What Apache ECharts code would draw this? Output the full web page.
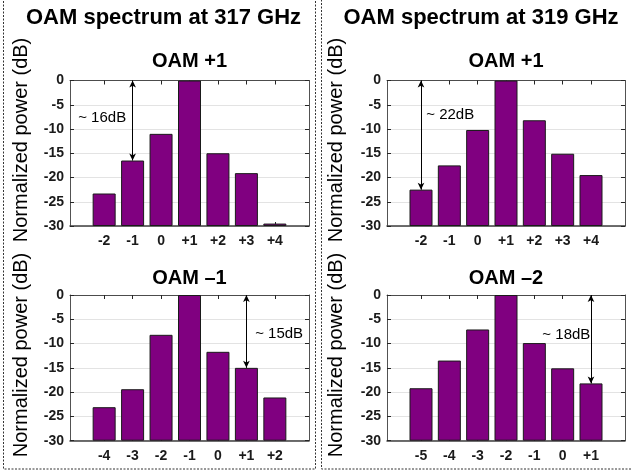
<!DOCTYPE html>
<html><head><meta charset="utf-8">
<script src="https://cdn.jsdelivr.net/npm/echarts@6/dist/echarts.min.js"></script>
<style>html,body{margin:0;padding:0;background:#fff}#c{width:631px;height:471px}</style>
</head><body><div id="c"></div>
<script>
const titles = ['OAM spectrum at 317 GHz', 'OAM spectrum at 319 GHz'];
const subTitles = ['OAM +1', 'OAM +1', 'OAM \u20131', 'OAM \u20132'];
const yName = 'Normalized power (dB)';
const modes317p1 = [-2, -1, 0, 1, 2, 3, 4];
const power317p1 = [-23.3, -16.5, -11.0, 0, -15.0, -19.1, -29.5];
const modes319p1 = [-2, -1, 0, 1, 2, 3, 4];
const power319p1 = [-22.5, -17.5, -10.2, 0, -8.2, -15.1, -19.5];
const modes317m1 = [-4, -3, -2, -1, 0, 1, 2];
const power317m1 = [-23.1, -19.4, -8.2, 0, -11.7, -15.0, -21.1];
const modes319m2 = [-5, -4, -3, -2, -1, 0, 1];
const power319m2 = [-19.2, -13.5, -7.1, 0, -9.9, -15.1, -18.2];
const gapLabels = ['~ 16dB', '~ 22dB', '~ 15dB', '~ 18dB'];
const gapModes = [-1, -2, 1, 1];

const FONT = "'Liberation Sans', Arial, sans-serif";
const AX = '#262626';

const panels = [
  {modes: modes317p1, power: power317p1, left: 70, top: 80.5, width: 239, height: 145.5, labelAt: [-2.07, -7.7]},
  {modes: modes319p1, power: power319p1, left: 387, top: 80.5, width: 238, height: 145.5, labelAt: [-0.97, -7.1]},
  {modes: modes317m1, power: power317m1, left: 70, top: 295, width: 239, height: 145.7, labelAt: [2.15, -8.0]},
  {modes: modes319m2, power: power319m2, left: 387, top: 295, width: 238, height: 145.7, labelAt: [0.13, -8.3]}
];

const fmt = v => (v > 0 ? '+' + v : String(v));
const grid = [], xAxis = [], yAxis = [], series = [];

panels.forEach((p, i) => {
  const center = p.modes[3];
  const min = center - 4.2, max = center + 4.2;
  grid.push({left: p.left, top: p.top, width: p.width, height: p.height});
  xAxis.push({
    gridIndex: i, type: 'value', min, max, position: 'bottom',
    axisLine: {show: true, onZero: false, lineStyle: {color: '#404040', width: 1.5}},
    axisTick: {show: true, inside: true, length: 4, customValues: p.modes, lineStyle: {color: AX}},
    axisLabel: {show: true, customValues: p.modes, formatter: fmt, fontWeight: 'bold', fontSize: 14, color: '#1a1a1a', margin: 8, fontFamily: FONT},
    splitLine: {show: false}
  });
  xAxis.push({
    gridIndex: i, type: 'value', min, max, position: 'top',
    axisLine: {show: true, onZero: false, lineStyle: {color: AX, width: 0.8}},
    axisTick: {show: true, inside: true, length: 4, customValues: p.modes, lineStyle: {color: AX}},
    axisLabel: {show: false},
    splitLine: {show: false}
  });
  yAxis.push({
    gridIndex: i, type: 'value', min: -30, max: 0, interval: 5, startValue: -30, position: 'left',
    axisLine: {show: true, onZero: false, lineStyle: {color: AX, width: 0.8}},
    axisTick: {show: true, inside: true, length: 4, lineStyle: {color: AX}},
    axisLabel: {fontWeight: 'bold', fontSize: 14, color: '#1a1a1a', margin: 6, fontFamily: FONT},
    splitLine: {show: true, lineStyle: {color: '#e3e3e3', width: 1}}
  });
  yAxis.push({
    gridIndex: i, type: 'value', min: -30, max: 0, interval: 5, position: 'right',
    axisLine: {show: true, onZero: false, lineStyle: {color: AX, width: 0.8}},
    axisTick: {show: true, inside: true, length: 4, lineStyle: {color: AX}},
    axisLabel: {show: false},
    splitLine: {show: false}
  });
  const gIdx = p.modes.indexOf(gapModes[i]);
  series.push({
    type: 'bar', xAxisIndex: 2 * i, yAxisIndex: 2 * i,
    data: p.modes.map((m, k) => [m, p.power[k]]),
    barWidth: 23,
    itemStyle: {color: '#800080', borderColor: '#1a1a1a', borderWidth: 1},
    markLine: {
      silent: true, symbol: ['arrow', 'arrow'], symbolSize: [5, 7],
      lineStyle: {color: '#000', width: 1, type: 'solid'},
      label: {show: false},
      data: [[{coord: [gapModes[i], 0]}, {coord: [gapModes[i], p.power[gIdx]]}]]
    },
    markPoint: {
      silent: true, symbol: 'circle', symbolSize: 0,
      label: {show: true, position: 'inside', formatter: gapLabels[i], color: '#000', fontSize: 15, fontFamily: FONT},
      data: [{coord: p.labelAt}]
    }
  });
});

const graphic = [
  {type: 'rect', shape: {x: 3.5, y: -2, width: 312, height: 471}, style: {fill: 'none', stroke: '#333', lineWidth: 1, lineDash: [2, 1.5]}, silent: true},
  {type: 'rect', shape: {x: 321.5, y: -2, width: 320, height: 471}, style: {fill: 'none', stroke: '#333', lineWidth: 1, lineDash: [2, 1.5]}, silent: true},
  {type: 'text', x: 163.5, y: 18, style: {text: titles[0], font: "bold 22px " + FONT, fill: '#000', textAlign: 'center', textVerticalAlign: 'middle'}},
  {type: 'text', x: 481, y: 18, style: {text: titles[1], font: "bold 22px " + FONT, fill: '#000', textAlign: 'center', textVerticalAlign: 'middle'}},
  {type: 'text', x: 189.5, y: 61, style: {text: subTitles[0], font: "bold 20px " + FONT, fill: '#000', textAlign: 'center', textVerticalAlign: 'middle'}},
  {type: 'text', x: 506, y: 61, style: {text: subTitles[1], font: "bold 20px " + FONT, fill: '#000', textAlign: 'center', textVerticalAlign: 'middle'}},
  {type: 'text', x: 189.5, y: 278, style: {text: subTitles[2], font: "bold 20px " + FONT, fill: '#000', textAlign: 'center', textVerticalAlign: 'middle'}},
  {type: 'text', x: 506, y: 278, style: {text: subTitles[3], font: "bold 20px " + FONT, fill: '#000', textAlign: 'center', textVerticalAlign: 'middle'}},
  {type: 'text', x: 21, y: 140, rotation: Math.PI / 2, style: {text: yName, font: "20px " + FONT, fill: '#000', textAlign: 'center', textVerticalAlign: 'middle'}},
  {type: 'text', x: 21, y: 355, rotation: Math.PI / 2, style: {text: yName, font: "20px " + FONT, fill: '#000', textAlign: 'center', textVerticalAlign: 'middle'}},
  {type: 'text', x: 336, y: 140, rotation: Math.PI / 2, style: {text: yName, font: "20px " + FONT, fill: '#000', textAlign: 'center', textVerticalAlign: 'middle'}},
  {type: 'text', x: 336, y: 355, rotation: Math.PI / 2, style: {text: yName, font: "20px " + FONT, fill: '#000', textAlign: 'center', textVerticalAlign: 'middle'}}
];

const chart = echarts.init(document.getElementById('c'), null, {renderer: 'canvas'});
chart.setOption({
  animation: false,
  backgroundColor: '#fff',
  textStyle: {fontFamily: FONT},
  grid, xAxis, yAxis, series, graphic
});
</script>
</body></html>
